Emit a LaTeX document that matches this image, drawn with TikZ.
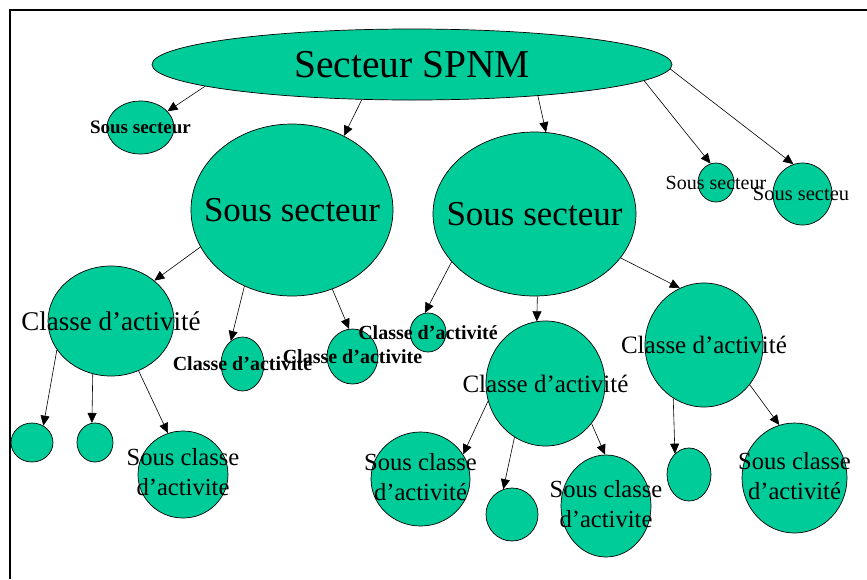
\documentclass[tikz,border=0pt]{standalone}
\usepackage{fontspec}
\setmainfont{Liberation Serif}
\usetikzlibrary{shapes.geometric,arrows.meta}
\definecolor{bubgreen}{HTML}{00CC99}
\newcommand{\myfs}[2]{\fontsize{#1}{#2}\selectfont}
\newcommand{\onel}[2]{\makebox[0pt]{\myfs{#1}{#1}#2}}
\newcommand{\twol}[2]{\makebox[0pt]{\myfs{24.6}{30}\begin{tabular}{@{}c@{}}#1\\#2\end{tabular}}}
\begin{document}
\begin{tikzpicture}[x=1pt,y=-1pt,
  bub/.style={ellipse,draw=black,fill=bubgreen,line width=0.7pt,inner sep=0pt},
  arr/.style={-{Triangle[length=10pt,width=9pt]},line width=0.6pt},
  frameline/.style={line width=1.8pt}]
\useasboundingbox (0,0) rectangle (867,579);
\draw[frameline] (867,10) -- (10,10) -- (10,579);

% level 0
\node[bub,minimum width=520pt,minimum height=71pt] (main) at (412,64.5) {\onel{39.5}{\raisebox{-2.5pt}{Secteur SPNM}}};

% level 1
\node[bub,minimum width=67pt,minimum height=53pt] (ssA) at (140.5,127.5) {\onel{19}{\bfseries Sous secteur}};
\node[bub,minimum width=202pt,minimum height=172pt] (ssB) at (292,210) {\onel{35}{Sous secteur}};
\node[bub,minimum width=203pt,minimum height=164pt] (ssC) at (534.5,214) {\onel{35}{Sous secteur}};
\node[bub,minimum width=36pt,minimum height=39pt] (ssD) at (716,182.5) {\onel{20}{Sous secteur}};
\node[bub,minimum width=59pt,minimum height=62pt] (ssE) at (802.5,194) {\onel{20.5}{\hspace*{-3pt}\raisebox{-3pt}{Sous secteu}}};

% level 2
\node[bub,minimum width=126pt,minimum height=110pt] (caA) at (111,321) {\onel{27}{Classe d’activité}};
\node[bub,minimum width=43pt,minimum height=54pt] (cb1) at (242.5,364) {\onel{20}{\bfseries Classe d’activite}};
\node[bub,minimum width=51pt,minimum height=55pt] (cb2) at (352.5,356.5) {\onel{20}{\bfseries Classe d’activite}};
\node[bub,minimum width=36pt,minimum height=39pt] (cb3) at (428,332.5) {\onel{20}{\bfseries Classe d’activité}};
\node[bub,minimum width=119pt,minimum height=125pt] (caB) at (545.5,383.5) {\onel{25}{Classe d’activité}};
\node[bub,minimum width=118pt,minimum height=124pt] (caC) at (704,345) {\onel{25}{Classe d’activité}};

% level 3
\node[bub,minimum width=42pt,minimum height=39pt] (e1) at (32,442.5) {};
\node[bub,minimum width=36pt,minimum height=39pt] (e2) at (95,442.5) {};
\node[bub,minimum width=90pt,minimum height=87pt] (scA) at (183,474.5) {\twol{Sous classe}{d’activite}};
\node[bub,minimum width=99pt,minimum height=94pt] (scB) at (420.5,479) {\twol{Sous classe}{d’activité}};
\node[bub,minimum width=52pt,minimum height=53pt] (e3) at (512,514.5) {};
\node[bub,minimum width=90pt,minimum height=102pt] (scC) at (606,506) {\twol{Sous classe}{d’activite}};
\node[bub,minimum width=44pt,minimum height=53pt] (e4) at (689,474.5) {};
\node[bub,minimum width=105pt,minimum height=110pt] (scD) at (794.5,478) {\twol{Sous classe}{d’activité}};

% connectors
\draw[arr] (main.186) -- (ssA.31);
\draw[arr] (main.215) -- (ssB.55);
\draw[arr] (main.346) -- (ssC.82);
\draw[arr] (main.356) -- (ssD.106);
\draw[arr] (main.359) -- (ssE.107);
\draw[arr] (ssB.202) -- (caA.43);
\draw[arr] (ssB.238) -- (cb1.117);
\draw[arr] (ssB.297) -- (cb2.97);
\draw[arr] (ssC.210) -- (cb3.99);
\draw[arr] (ssC.272) -- (caB.98);
\draw[arr] (ssC.333) -- (caC.113);
\draw[arr] (caA.208) -- (e1.56);
\draw[arr] (caA.251) -- (e2.99);
\draw[arr] (caA.299) -- (scA.110);
\draw[arr] (caB.197) -- (scB.30);
\draw[arr] (caB.240) -- (e3.109);
\draw[arr] (caB.319) -- (scC.91);
\draw[arr] (caC.240) -- (e4.124);
\draw[arr] (caC.319) -- (scD.106);
\end{tikzpicture}
\end{document}
